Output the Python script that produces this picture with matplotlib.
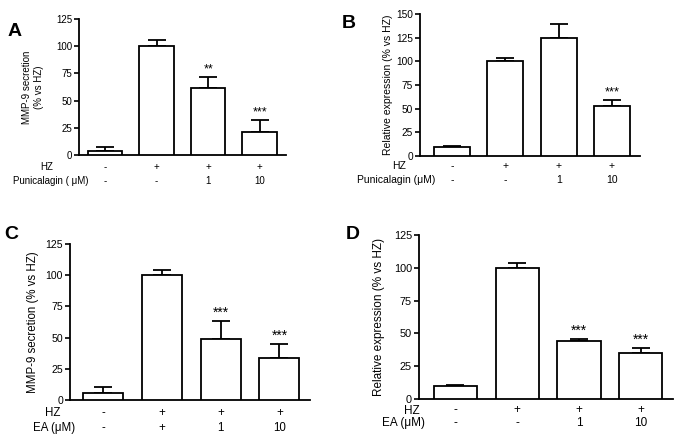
import numpy as np
import matplotlib
matplotlib.use("Agg")
import matplotlib.pyplot as plt

plt.rcParams['font.family'] = ['Liberation Sans', 'DejaVu Sans']

# Panel A - MMP-9 secretion, punicalagin
a_mean = [3.5, 100, 62, 21.5]
a_err = [3.5, 6, 10, 10.5]
a_star = ["", "", "**", "***"]
a_hz = ["-", "+", "+", "+"]
a_drug = ["-", "-", "1", "10"]

# Panel B - relative expression, punicalagin
b_mean = [10, 100, 125, 52.5]
b_err = [0.5, 3.5, 14, 7]
b_star = ["", "", "", "***"]
b_hz = ["-", "+", "+", "+"]
b_drug = ["-", "-", "1", "10"]

# Panel C - MMP-9 secretion, EA
c_mean = [5.5, 100, 48.5, 34]
c_err = [5, 4.5, 15, 10.5]
c_star = ["", "", "***", "***"]
c_hz = ["-", "+", "+", "+"]
c_drug = ["-", "+", "1", "10"]

# Panel D - relative expression, EA
d_mean = [10, 100, 44.5, 35]
d_err = [0.5, 4, 1, 3.5]
d_star = ["", "", "***", "***"]
d_hz = ["-", "+", "+", "+"]
d_drug = ["-", "-", "1", "10"]

W, H = 685, 441
fig = plt.figure(figsize=(W / 100, H / 100), dpi=100)


def px_axes(x0, y0, x1, y1):
    # pixel box (left, top, right, bottom) -> figure fraction axes
    return fig.add_axes([x0 / W, 1 - y1 / H, (x1 - x0) / W, (y1 - y0) / H])


def panel(box, mean, err, star, hz, drug, ymax, yticks, xlim, width, ylabel,
          ylab_x, fs, lfs, sfs, letter, letter_xy, drug_name, name_x, row_y):
    ax = px_axes(*box)
    x = np.arange(len(mean))
    ax.bar(x, mean, width=width, color='white', edgecolor='black', linewidth=1.3, zorder=3)
    ax.errorbar(x, mean, yerr=[np.zeros(len(err)), err], fmt='none', ecolor='black',
                elinewidth=1.3, capsize=6.5, capthick=1.3, zorder=2)
    for xi, m, e, s in zip(x, mean, err, star):
        if s:
            ax.annotate(s, (xi, m + e), xytext=(0, 1), textcoords='offset points',
                        ha='center', va='bottom', fontsize=sfs)
    ax.set_xlim(*xlim)
    ax.set_ylim(0, ymax)
    ax.set_yticks(yticks)
    ax.set_xticks([])
    ax.tick_params(axis='y', labelsize=fs, length=3.5, width=1.2, pad=1.5)
    for sp in ['top', 'right']:
        ax.spines[sp].set_visible(False)
    for sp in ['left', 'bottom']:
        ax.spines[sp].set_linewidth(1.3)
    ax.set_ylabel(ylabel, fontsize=lfs)
    ax.yaxis.set_label_coords(ylab_x, 0.5)
    # condition rows under the bars
    tr = ax.get_xaxis_transform()
    y_bottom = box[3]
    h = box[3] - box[1]
    for xi, a, b in zip(x, hz, drug):
        ax.text(xi, -(row_y[0] - y_bottom) / h, a, transform=tr, ha='center', va='center', fontsize=lfs)
        ax.text(xi, -(row_y[1] - y_bottom) / h, b, transform=tr, ha='center', va='center', fontsize=lfs)
    fig.text(name_x[0] / W, 1 - row_y[0] / H, "HZ", ha='left', va='center', fontsize=lfs)
    fig.text(name_x[1] / W, 1 - row_y[1] / H, drug_name, ha='left', va='center', fontsize=lfs)
    fig.text(letter_xy[0] / W, 1 - letter_xy[1] / H, letter, fontsize=14, fontweight='bold',
             ha='center', va='center')
    return ax


panel((79, 19, 286, 155), a_mean, a_err, a_star, a_hz, a_drug, 125, [0, 25, 50, 75, 100, 125],
      (-0.505, 3.51), 0.67, "MMP-9 secretion\n(% vs HZ)", -0.17, 7, 7, 9, "A", (15, 32),
      "Punicalagin ( μM)", (40, 13), (167, 181))

panel((420, 14, 640, 156), b_mean, b_err, b_star, b_hz, b_drug, 150, [0, 25, 50, 75, 100, 125, 150],
      (-0.6, 3.525), 0.675, "Relative expression (% vs HZ)", -0.123, 7.3, 7.5, 9.3, "B", (349, 24),
      "Punicalagin (μM)", (392, 357), (166, 180))

panel((70, 244, 310, 400), c_mean, c_err, c_star, c_hz, c_drug, 125, [0, 25, 50, 75, 100, 125],
      (-0.56, 3.52), 0.68, "MMP-9 secretion (% vs HZ)", -0.129, 7.6, 8.3, 10, "C", (11, 235),
      "EA (μM)", (45, 33), (413, 428))

panel((419, 235, 673, 399), d_mean, d_err, d_star, d_hz, d_drug, 125, [0, 25, 50, 75, 100, 125],
      (-0.59, 3.52), 0.7, "Relative expression (% vs HZ)", -0.134, 7.8, 8.5, 10, "D", (353, 235),
      "EA (μM)", (404, 382), (410.5, 423))

fig.savefig("out.png", dpi=100)
